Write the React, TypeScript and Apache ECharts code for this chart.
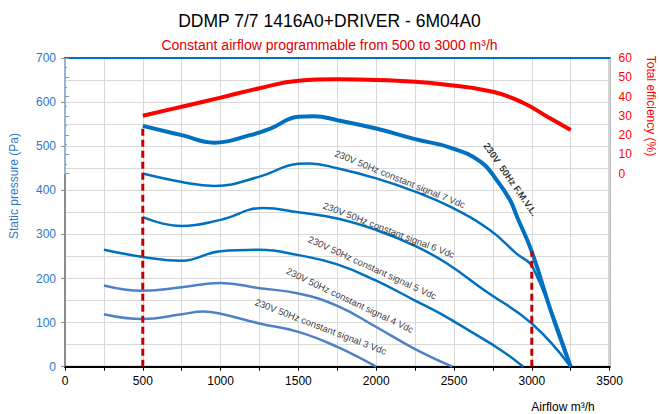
import React, { useEffect, useRef } from "react";
import * as echarts from "echarts";

const titleText = "DDMP 7/7 1416A0+DRIVER - 6M04A0";
const subtitleText = "Constant airflow programmable from 500 to 3000 m³/h";
const xName = "Airflow m³/h";
const yLeftName = "Static pressure (Pa)";
const yRightName = "Total efficiency (%)";

// [airflow m³/h, static pressure Pa]
const fmvlCurve = [
  [500, 546], [750, 525], [960, 508], [1190, 525], [1320, 540], [1500, 567], [1600, 568],
  [1750, 559], [2000, 540], [2250, 516], [2475, 497], [2670, 465], [2775, 423], [2860, 378],
  [2905, 340], [3000, 261], [3120, 129], [3250, 0],
];
const signal7 = [
  [500, 438], [750, 419], [960, 410], [1250, 431], [1500, 460], [1570, 461], [1750, 450],
  [2000, 427], [2250, 397], [2475, 363], [2730, 310], [2900, 257], [3010, 223], [3250, 0],
];
const signal6 = [
  [500, 339], [750, 319], [1000, 333], [1275, 360], [1500, 350], [1750, 336], [2000, 310],
  [2250, 274], [2450, 235], [2700, 172], [3000, 98], [3250, 0],
];
const signal5 = [
  [250, 265], [500, 249], [750, 240], [1000, 262], [1250, 265], [1500, 253], [1750, 232],
  [2000, 195], [2250, 150], [2410, 121], [2625, 76], [2800, 38], [2945, 0],
];
const signal4 = [
  [250, 184], [500, 172], [750, 180], [1000, 190], [1250, 178], [1500, 166], [1750, 138],
  [2000, 90], [2250, 40], [2490, 0],
];
const signal3 = [
  [250, 119], [500, 108], [750, 119], [890, 125], [1000, 120], [1250, 98], [1500, 79],
  [1750, 45], [2000, 0],
];
// [airflow m³/h, total efficiency %]
const efficiency = [
  [500, 30], [750, 34.7], [1000, 39.4], [1250, 44.3], [1500, 48.2], [1750, 48.9], [2000, 48.6],
  [2250, 47.7], [2410, 46.5], [2750, 42.5], [2950, 36.5], [3100, 29.5], [3250, 22.6],
];
// constant airflow limits
const limitLow = [[500, 0], [500, 546]];
const limitHigh = [[3000, 0], [3000, 261]];

// curve annotations
const curveLabelTexts = [
  "230V 50Hz constant signal 7 Vdc",
  "230V 50Hz constant signal 6 Vdc",
  "230V 50Hz constant signal 5 Vdc",
  "230V 50Hz constant signal 4 Vdc",
  "230V 50Hz constant signal 3 Vdc",
];
const curveLabelX = [2153, 2082, 1976, 1832, 1644];
const curveLabelY = [426, 310, 225, 151, 91];
const curveLabelAngle = [-22, -21, -24.5, -25.4, -21];
const fmvlLabelText = "230V  50Hz F.M.V.L.";
const fmvlLabelPos = [2865, 425];

const xTicks = { min: 0, max: 3500, step: 250, labelStep: 500 };
const yTicks = { min: 0, max: 700, step: 100 };
const effTicks = { min: 0, max: 60, step: 10 };

export default function App() {
  const ref = useRef<HTMLDivElement>(null);
  useEffect(() => {
    document.body.style.margin = "0";
    const chart = echarts.init(ref.current!, null, { renderer: "svg" });
    const font = "Liberation Sans, Arial, sans-serif";
    const gridBox = { left: 65, right: 49.4, top: 58, bottom: 47.3 };
    const blue = "#0070c0";
    const steel = "#4f81c7";
    const lineS = (name: string, data: number[][], color: string, width: number) => ({
      name,
      type: "line",
      data,
      smooth: 0.45,
      symbol: "none",
      lineStyle: { color, width },
      z: 3,
      silent: true,
    });
    const dashS = (data: number[][]) => ({
      type: "line",
      data,
      symbol: "none",
      lineStyle: { color: "#c00000", width: 3, type: [7, 4] },
      z: 5,
      silent: true,
    });
    chart.setOption({
      animation: false,
      textStyle: { fontFamily: font },
      title: [
        {
          text: titleText,
          left: "center",
          top: 7,
          textStyle: { fontSize: 17.5, fontWeight: "normal", color: "#000", fontFamily: font },
        },
        {
          text: subtitleText,
          left: "center",
          top: 33,
          textStyle: { fontSize: 14, fontWeight: "normal", color: "#e00000", fontFamily: font },
        },
      ],
      grid: [
        { ...gridBox, show: true, borderColor: "#8c8c8c", borderWidth: 2, backgroundColor: "transparent" },
        { left: gridBox.left, right: gridBox.right, top: gridBox.top, height: 115.5 },
      ],
      xAxis: [
        {
          type: "value",
          gridIndex: 0,
          min: xTicks.min,
          max: xTicks.max,
          interval: xTicks.step,
          axisLine: { show: true, lineStyle: { color: "#000", width: 2 } },
          axisTick: { show: true, length: 4, lineStyle: { color: "#000", width: 1 } },
          axisLabel: {
            color: "#000",
            fontSize: 12,
            margin: 8,
            formatter: (v: number) => (v % xTicks.labelStep === 0 ? String(v) : ""),
          },
          splitLine: { show: true, lineStyle: { color: "#d9d9d9", width: 1 } },
        },
        {
          type: "value",
          gridIndex: 1,
          min: xTicks.min,
          max: xTicks.max,
          show: false,
        },
        {
          type: "value",
          gridIndex: 0,
          position: "top",
          min: xTicks.min,
          max: xTicks.max,
          axisLine: { show: true, onZero: false, lineStyle: { color: blue, width: 2 } },
          axisTick: { show: false },
          axisLabel: { show: false },
          splitLine: { show: false },
        },
      ],
      yAxis: [
        {
          type: "value",
          gridIndex: 0,
          min: yTicks.min,
          max: yTicks.max,
          interval: yTicks.step,
          axisLine: { show: true, lineStyle: { color: "#8c8c8c", width: 2 } },
          axisTick: { show: true, length: 4, lineStyle: { color: "#8c8c8c" } },
          axisLabel: { color: "#2e78c8", fontSize: 12, margin: 9 },
          splitLine: { show: true, lineStyle: { color: "#d9d9d9", width: 1 } },
          minorTick: { show: false, splitNumber: 2 },
          minorSplitLine: { show: true, lineStyle: { color: "#d9d9d9", width: 1 } },
        },
        {
          type: "value",
          gridIndex: 1,
          position: "right",
          min: effTicks.min,
          max: effTicks.max,
          interval: effTicks.step,
          axisLine: { show: true, lineStyle: { color: "#9dc3e6", width: 1.5 } },
          axisTick: { show: true, length: 4, lineStyle: { color: "#7f9fbf" } },
          minorTick: { show: true, splitNumber: 2, length: 2, lineStyle: { color: "#7f9fbf" } },
          axisLabel: { color: "#ff0000", fontSize: 12, margin: 9 },
          splitLine: { show: false },
        },
      ],
      graphic: [
        {
          type: "text",
          x: 14,
          y: 186,
          rotation: Math.PI / 2,
          style: { text: yLeftName, fill: "#2e78c8", font: `12px ${font}`, align: "center", verticalAlign: "middle" },
        },
        {
          type: "text",
          x: 651,
          y: 106,
          rotation: -Math.PI / 2,
          style: { text: yRightName, fill: "#ff0000", font: `12px ${font}`, align: "center", verticalAlign: "middle" },
        },
        {
          type: "text",
          x: 563,
          y: 407,
          style: { text: xName, fill: "#000", font: `12px ${font}`, align: "center", verticalAlign: "middle" },
        },
      ],
      series: [
        lineS("signal 3", signal3, steel, 2.5),
        lineS("signal 4", signal4, steel, 2.5),
        lineS("signal 5", signal5, blue, 2.5),
        lineS("signal 6", signal6, blue, 2.5),
        lineS("signal 7", signal7, blue, 2.5),
        lineS("F.M.V.L.", fmvlCurve, blue, 4),
        dashS(limitLow),
        dashS(limitHigh),
        {
          name: "efficiency",
          type: "line",
          xAxisIndex: 1,
          yAxisIndex: 1,
          data: efficiency,
          smooth: 0.45,
          symbol: "none",
          lineStyle: { color: "#ff0000", width: 4 },
          z: 4,
          silent: true,
        },
        {
          type: "scatter",
          symbolSize: 0,
          silent: true,
          z: 6,
          data: [
            ...curveLabelTexts.map((t, i) => ({
              value: [curveLabelX[i], curveLabelY[i]],
              label: {
                show: true,
                position: "inside",
                formatter: t,
                rotate: curveLabelAngle[i],
                color: "#000",
                fontSize: 9.5,
                fontFamily: font,
              },
            })),
            {
              value: fmvlLabelPos,
              label: {
                show: true,
                position: "inside",
                formatter: fmvlLabelText,
                rotate: -55,
                color: "#000",
                fontSize: 9.5,
                fontWeight: "bold",
                fontFamily: font,
              },
            },
          ],
        },
      ],
    });
    return () => chart.dispose();
  }, []);
  return <div ref={ref} style={{ width: 659, height: 414 }} />;
}
